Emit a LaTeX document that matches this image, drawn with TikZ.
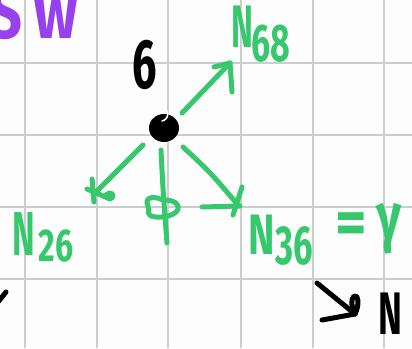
\documentclass[tikz,border=0pt]{standalone}
\usepackage{fontspec}
\setmainfont{Fira Sans}
\definecolor{pen}{RGB}{55,200,110}
\definecolor{purp}{RGB}{150,65,235}
\definecolor{gridc}{RGB}{205,205,205}
\definecolor{paper}{RGB}{253,253,253}
\newcommand\hw[3]{\fontsize{#1}{#1}\selectfont\scalebox{#2}[1]{#3}}
\begin{document}
\begin{tikzpicture}[x=1pt,y=-1pt,
 gridline/.style={draw=gridc,line width=2.5pt},
 gstroke/.style={draw=pen,line width=5pt,line cap=round,line join=round},
 kstroke/.style={draw=black,line width=5pt,line cap=round,line join=round},
 hand/.style={inner sep=0pt,outer sep=0pt,font=\bfseries},
]
\fill[paper] (0,0) rectangle (412,348);
\useasboundingbox (0,0) rectangle (412,348);
\foreach \x in {25,97,168,241,313,384} \draw[gridline] (\x,0) -- (\x,348);
\foreach \y in {63,135,207,279} \draw[gridline] (0,\y) -- (412,\y);

% purple heading (cut at top)
\node[hand,text=purp,anchor=base west] (sw) at (-10,38) {\hw{72}{0.8}{S\hspace{14pt}w}};

% central vertex
\node[hand] (six) at (145,65) {\hw{70}{0.62}{6}};
\fill[black] (164,128) ellipse [x radius=15, y radius=14];
\node[inner sep=0pt,minimum size=28pt] (dot) at (164,128) {};
\draw[white,line width=1.6pt,line cap=round] (162,121) arc[start angle=80,end angle=-80,radius=7];

% labels
\node[hand,text=pen] (n68a) at (242,27) {\hw{60}{0.55}{N}};
\node[hand,text=pen] (n68b) at (271,44) {\hw{53}{0.64}{68}};
\node[hand,text=pen] (n26a) at (24,234) {\hw{62}{0.55}{N}};
\node[hand,text=pen] (n26b) at (56,246) {\hw{46}{0.7}{26}};
\node[hand,text=pen] (n36a) at (262,235) {\hw{57}{0.7}{N}};
\node[hand,text=pen] (n36b) at (294,246) {\hw{55}{0.63}{36}};
\node[hand,text=pen] (eq) at (351,229) {\hw{64}{0.95}{=}};
\node[hand,text=pen] (gam) at (389,229) {\hw{66}{0.75}{γ}};
\node[hand] (nbot) at (390,314) {\hw{60}{0.6}{N}};

% coordinates for arrow ends
\coordinate (ur0) at (182,113); \coordinate (ur1) at (230,63);
\coordinate (ll0) at (143,145); \coordinate (ll1) at (93,195);
\coordinate (dn0) at (161,150); \coordinate (dn1) at (167,243);
\coordinate (lr0) at (183,147); \coordinate (lr1) at (238,205);

% green arrows
\draw[gstroke] (ur0) -- (ur1);
\draw[gstroke] (ur1) -- (232,92);
\draw[gstroke] (ur1) -- (214,67);

\draw[gstroke] (ll0) -- (ll1);
\draw[gstroke] (92,179) -- (94,202);
\draw[gstroke] (87,189) -- (110,199) .. controls (116,196) and (112,190) .. (106,195);

\draw[gstroke] (dn0) .. controls (163,190) .. (dn1);
\draw[gstroke] (163,200) .. controls (152,195) and (144,198) .. (148,206)
  .. controls (150,212) and (145,216) .. (156,217)
  .. controls (170,218) and (180,212) .. (178,206)
  .. controls (176,201) and (170,200) .. (163,200);

\draw[gstroke] (lr0) .. controls (210,172) .. (lr1);
\draw[gstroke] (202,207) -- (240,206);
\draw[gstroke] (242,187) -- (233,215);

% black arrow bottom right
\coordinate (bk0) at (317,283); \coordinate (bk1) at (355,314);
\draw[kstroke] (bk0) -- (bk1);
\draw[kstroke] (322,320) -- (bk1);
\draw[kstroke] (bk1) .. controls (360,304) and (358,294) .. (354,296) .. controls (350,300) and (352,308) .. (bk1);

% black mark at left edge
\draw[kstroke] (-2,302) -- (6,292);
\end{tikzpicture}
\end{document}
